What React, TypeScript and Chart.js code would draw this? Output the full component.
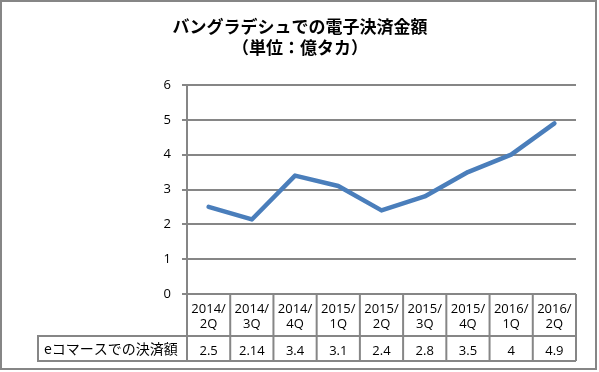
import { useEffect, useRef } from "react";
import { Chart, registerables } from "chart.js";

Chart.register(...registerables);

const titleLines = ["バングラデシュでの電子決済金額", "（単位：億タカ）"];
const categoryTop = ["2014/", "2014/", "2014/", "2015/", "2015/", "2015/", "2015/", "2016/", "2016/"];
const categoryBottom = ["2Q", "3Q", "4Q", "1Q", "2Q", "3Q", "4Q", "1Q", "2Q"];
const seriesName = "eコマースでの決済額";
const seriesValues = [2.5, 2.14, 3.4, 3.1, 2.4, 2.8, 3.5, 4, 4.9];
const yMin = 0;
const yMax = 6;
const yStep = 1;

const GRID = "#868686";
const LINE = "#4A7EBB";
const NUM_FONT = "13px 'Open Sans', sans-serif";
const JP_FONT = "14px 'Noto Sans CJK JP', sans-serif";

const tablePlugin = {
  id: "dataTable",
  afterDraw(chart: any) {
    const ctx: CanvasRenderingContext2D = chart.ctx;
    const xs = chart.scales.x;
    const area = chart.chartArea;
    const n = categoryTop.length;
    const top = area.bottom;
    const catBottom = top + 42;
    const rowBottom = catBottom + 25;
    const bounds: number[] = [];
    for (let i = 0; i <= n; i++) {
      if (i === 0) bounds.push(area.left);
      else if (i === n) bounds.push(area.right);
      else bounds.push((xs.getPixelForValue(i - 1) + xs.getPixelForValue(i)) / 2);
    }
    ctx.save();
    ctx.strokeStyle = GRID;
    ctx.lineWidth = 2;
    ctx.beginPath();
    for (const b of bounds) {
      ctx.moveTo(b, top);
      ctx.lineTo(b, rowBottom);
    }
    ctx.moveTo(area.left, catBottom);
    ctx.lineTo(area.right, catBottom);
    ctx.moveTo(area.left, rowBottom);
    ctx.lineTo(area.right, rowBottom);
    ctx.stroke();
    // series label box
    const labelLeft = 38;
    ctx.beginPath();
    ctx.moveTo(area.left, catBottom);
    ctx.lineTo(labelLeft, catBottom);
    ctx.lineTo(labelLeft, rowBottom);
    ctx.lineTo(area.left, rowBottom);
    ctx.stroke();

    ctx.fillStyle = "#000";
    ctx.textAlign = "center";
    ctx.textBaseline = "alphabetic";
    ctx.font = NUM_FONT;
    for (let i = 0; i < n; i++) {
      const cx = xs.getPixelForValue(i);
      ctx.fillText(categoryTop[i], cx, top + 19);
      ctx.fillText(categoryBottom[i], cx, top + 34);
      ctx.fillText(String(seriesValues[i]), cx, rowBottom - 6);
    }
    ctx.textAlign = "left";
    ctx.textBaseline = "middle";
    ctx.font = JP_FONT;
    ctx.fillText(seriesName, labelLeft + 6, (catBottom + rowBottom) / 2);

    // title
    ctx.textAlign = "center";
    ctx.font = "bold 17px 'Noto Sans CJK JP', sans-serif";
    ctx.fillText(titleLines[0], 300, 27);
    ctx.fillText(titleLines[1], 300, 48);

    // outer border
    ctx.strokeStyle = GRID;
    ctx.lineWidth = 2;
    ctx.strokeRect(1, 1, 595, 368);
    ctx.restore();
  },
};

export default function App() {
  const ref = useRef<HTMLCanvasElement | null>(null);
  useEffect(() => {
    if (!ref.current) return;
    const chart = new Chart(ref.current, {
      type: "line",
      data: {
        labels: categoryTop.map((t, i) => t + categoryBottom[i]),
        datasets: [
          {
            label: seriesName,
            data: seriesValues,
            borderColor: LINE,
            backgroundColor: LINE,
            borderWidth: 4.5,
            pointRadius: 0,
            tension: 0,
            borderJoinStyle: "round",
            borderCapStyle: "round",
          },
        ],
      },
      options: {
        responsive: false,
        animation: false,
        devicePixelRatio: 1,
        layout: { padding: { left: 0, top: 85, right: 23, bottom: 78 } },
        plugins: { legend: { display: false }, tooltip: { enabled: false }, title: { display: false } },
        scales: {
          x: { type: "category", display: false, offset: true },
          y: {
            min: yMin,
            max: yMax,
            afterFit: (s: any) => {
              s.width = 187;
            },
            ticks: { stepSize: yStep, padding: 11, color: "#000", font: { family: "'Open Sans', sans-serif", size: 13 } },
            grid: { color: GRID, lineWidth: 2, tickLength: 5, drawTicks: true },
            border: { display: true, color: GRID, width: 2 },
          },
        },
      },
      plugins: [tablePlugin],
    });
    return () => chart.destroy();
  }, []);
  return (
    <div style={{ position: "fixed", left: 0, top: 0, width: 599, height: 372, background: "#fff" }}>
      <canvas ref={ref} width={599} height={372} />
    </div>
  );
}
